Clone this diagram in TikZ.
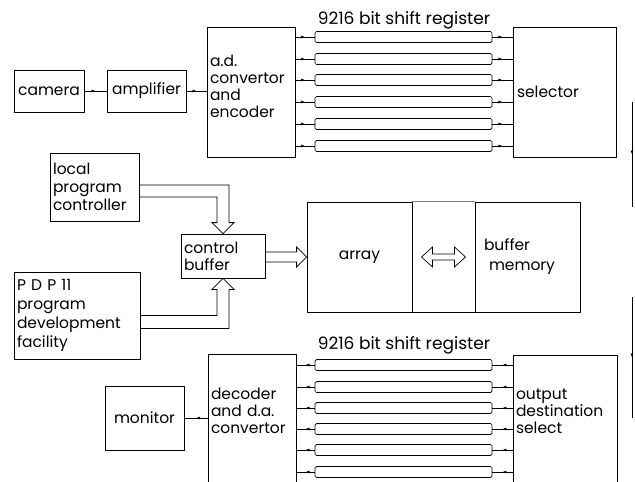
\documentclass[tikz,border=0pt]{standalone}
\usepackage{fontspec}
\setmainfont{Poppins}
\usetikzlibrary{calc,decorations.markings,arrows.meta}
\begin{document}
\begin{tikzpicture}[x=1pt,y=-1pt,
  box/.style={draw, line width=0.8pt, inner xsep=3pt, inner ysep=0pt, font=\fontsize{15.5}{17}\selectfont},
  reg/.style={draw, line width=0.7pt, rounded corners=1.5pt, minimum width=177pt, minimum height=11pt, inner sep=0pt},
  conn/.style={line width=0.7pt, postaction=decorate, decoration={markings, mark=at position 0.5 with {\arrow{Latex[length=4pt,width=3pt]}}}},
  hollow/.style={line width=0.8pt, line join=miter},
  lbl/.style={font=\fontsize{17}{18}\selectfont, inner sep=0pt}]
\useasboundingbox (0,0) rectangle (635,482);
\clip (0,0) rectangle (635,482);
\fill[white] (0,0) rectangle (635,482);

% top row
\node[box, minimum width=70pt, minimum height=42pt] (camera) at (49,91) {camera};
\node[box, minimum width=79pt, minimum height=42pt] (amplifier) at (146.5,91) {amplifier};
\node[box, minimum width=88pt, minimum height=130pt, text width=82pt, align=left] (adc) at (251,92) {a.d.\\convertor\\and\\encoder\\[-5pt]\mbox{}};
\node[box, minimum width=103pt, minimum height=130pt, text width=95pt, align=left] (selector) at (564.5,92) {selector};
\node[lbl] (lbltop) at (404,20) {9216 bit shift register};
\foreach \i/\y in {1/37,2/59,3/80,4/102,5/124,6/146}{
  \node[reg] (reg\i) at (403.5,\y) {};
  \draw[conn] (adc.east |- reg\i.west) -- (reg\i.west);
  \draw[conn] (reg\i.east) -- (selector.west |- reg\i.east);
}
\draw[conn] (camera.east) -- (amplifier.west);
\draw[conn] (amplifier.east) -- (adc.west |- amplifier.east);

% middle
\node[box, minimum width=89pt, minimum height=68pt, text width=83pt, align=left, font=\fontsize{15.5}{18}\selectfont] (local) at (94.5,187) {local\\program\\controller};
\node[box, minimum width=84pt, minimum height=44pt, text width=78pt, align=left] (control) at (223,256) {control\\buffer};
\node[box, minimum width=126pt, minimum height=87pt, text width=120pt, align=left, font=\fontsize{15.5}{19}\selectfont] (pdp) at (77,315.5) {P D P 11\\program\\development\\facility};
\node[box, minimum width=105pt, minimum height=110pt] (array) at (359.5,257) {array};
\node[box, minimum width=105pt, minimum height=110pt, text width=87pt, align=left, font=\fontsize{15.5}{20}\selectfont] (buffer) at (527.5,257) {buffer\\\hspace*{5pt}memory};

% hollow arrow local -> control
\coordinate (T1) at (control.north);
\path (local.east) ++(0,-2) coordinate (L1a) ++(0,12) coordinate (L1b);
\path (T1) ++(6,0) coordinate (T1r) ++(-12,0) coordinate (T1l);
\draw[hollow] (L1a) -- (T1r |- L1a) -- ($(T1)+(6,-11)$) -- ($(T1)+(11,-11)$) -- (T1)
  -- ($(T1)+(-11,-11)$) -- ($(T1)+(-6,-11)$) -- (T1l |- L1b) -- (L1b);

% hollow arrow pdp -> control
\coordinate (T2) at (control.south);
\path (pdp.east) ++(0,0) coordinate (P1a) ++(0,13) coordinate (P1b);
\path (T2) ++(6,0) coordinate (T2r) ++(-12,0) coordinate (T2l);
\draw[hollow] (P1a) -- (T2l |- P1a) -- ($(T2)+(-6,11)$) -- ($(T2)+(-11,11)$) -- (T2)
  -- ($(T2)+(11,11)$) -- ($(T2)+(6,11)$) -- (T2r |- P1b) -- (P1b);

% hollow arrow control -> array
\coordinate (T3) at (array.west);
\path (control.east) ++(0,-4) coordinate (C1a) ++(0,10) coordinate (C1b);
\draw[hollow] (C1a) -- ($(T3)+(-10,-5)$) -- ($(T3)+(-10,-10)$) -- (T3)
  -- ($(T3)+(-10,10)$) -- ($(T3)+(-10,5)$) -- (C1b);

% channel between array and buffer memory
\draw[line width=0.4pt, gray] (array.north east) -- (buffer.north west);
\draw[line width=1.6pt] (array.south east) -- (buffer.south west);
\coordinate (D) at ($(array.east)!0.5!(buffer.west)$);
\draw[hollow, line width=0.7pt] ($(D)+(-22,0)$) -- ($(D)+(-11,-10)$) -- ($(D)+(-11,-3)$) -- ($(D)+(11,-3)$)
  -- ($(D)+(11,-10)$) -- ($(D)+(22,0)$) -- ($(D)+(11,10)$) -- ($(D)+(11,3)$) -- ($(D)+(-11,3)$)
  -- ($(D)+(-11,10)$) -- cycle;

% bottom row
\node[lbl] (lblbot) at (404,345) {9216 bit shift register};
\node[box, minimum width=79pt, minimum height=64pt] (monitor) at (144.5,418) {monitor};
\node[box, minimum width=88pt, minimum height=131pt, text width=82pt, align=left] (decoder) at (252,419.5) {decoder\\and d.a.\\convertor\\\mbox{}};
\node[box, minimum width=104pt, minimum height=130pt, text width=98pt, align=left] (output) at (565,420) {output\\destination\\select\\\mbox{}};
\foreach \i/\y in {1/365,2/387,3/408,4/429,5/450,6/472}{
  \node[reg] (regb\i) at (403.5,\y) {};
  \draw[conn] (output.west |- regb\i.east) -- (regb\i.east);
  \draw[conn] (regb\i.west) -- (decoder.east |- regb\i.west);
}
\draw[conn] (decoder.west |- monitor.east) -- (monitor.east);

% partial line at right edge
\coordinate (R1) at (632,102);
\coordinate (R2) at (632,207);
\coordinate (R3) at (632,297);
\coordinate (R4) at (632,418);
\draw[conn] (R1) -- (R2);
\draw[conn] (R3) -- (R4);
\end{tikzpicture}
\end{document}
